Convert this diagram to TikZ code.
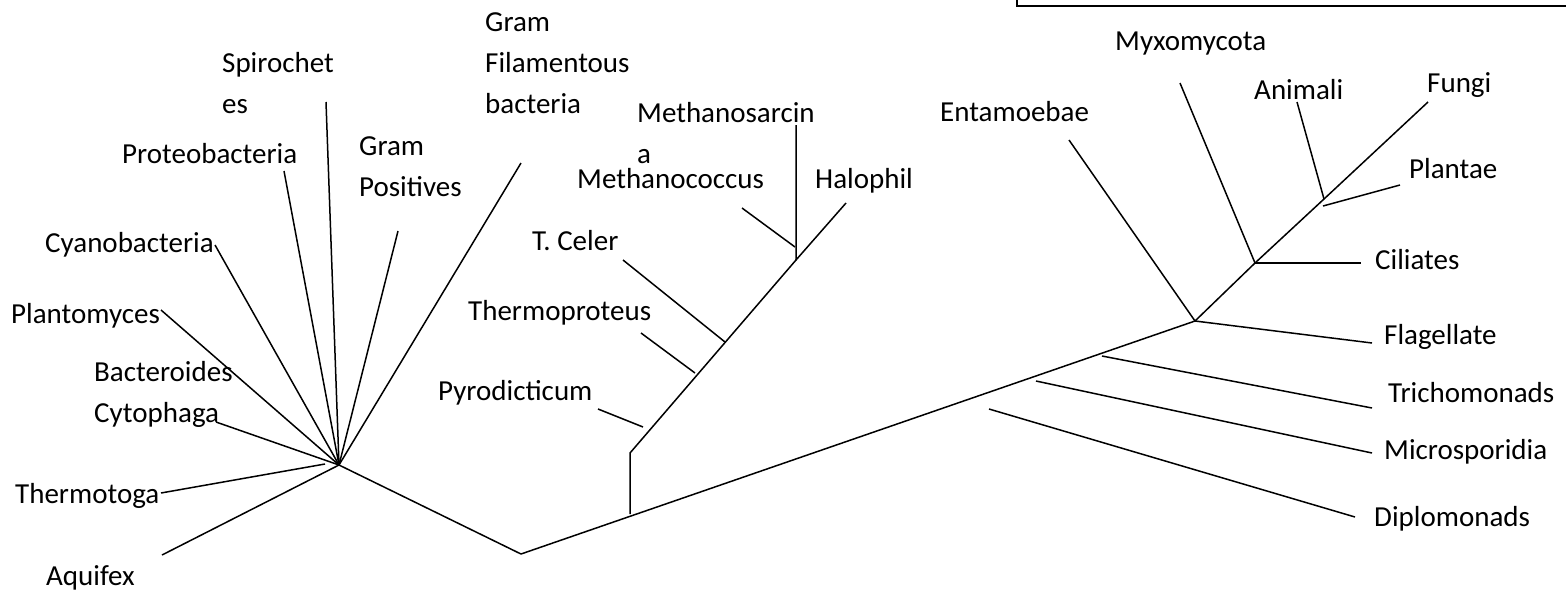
\documentclass[tikz,border=0pt]{standalone}
\usepackage{fontspec}
\setmainfont{Carlito}
\newcommand{\taxonfont}{\fontsize{29}{41}\selectfont}
\begin{document}
\begin{tikzpicture}[
	x=1pt, y=-1pt,
	branch/.style={ line width=1.5pt },
	taxon/.style={ inner sep=0pt, anchor=base west, align=left, font=\taxonfont },
	frame/.style={ line width=2pt }
]
\useasboundingbox (0,0) rectangle (1566,590);

% frame edge at the top
\draw[frame] (1017,-10) -- (1017,6) -- (1580,6);

% forks
\coordinate (root) at (521,554);
\coordinate (bact) at (339,465);
\coordinate (arch) at (630,514);
\coordinate (archbend) at (630,453);
\coordinate (archtop) at (796,260);
\coordinate (euk) at (1195,321);
\coordinate (crown) at (1255,263);
\coordinate (crowntop) at (1324,199);

% bacteria (base = last line)
\node at (46,585) (aquifex) [taxon] {Aquifex};
\node at (15,503) (thermotoga) [taxon] {Thermotoga};
\node at (94,422) (cytophaga) [taxon] {Bacteroides\\Cytophaga};
\node at (11,323) (plantomyces) [taxon] {Plantomyces};
\node at (45,252) (cyano) [taxon] {Cyanobacteria};
\node at (122,163) (proteo) [taxon] {Proteobacteria};
\node at (222,113) (spiro) [taxon] {Spirochet\\es};
\node at (359,196) (grampos) [taxon] {Gram\\Positives};
\node at (485,113) (gramfil) [taxon] {Gram\\Filamentous\\bacteria};

\coordinate (aquifex-end) at (162,555);
\coordinate (thermotoga-end) at (161,493);
\coordinate (thermotoga-start) at (325,464);
\coordinate (cytophaga-end) at (216,422);
\coordinate (plantomyces-end) at (161,310);
\coordinate (cyano-end) at (215,245);
\coordinate (proteo-end) at (284,171);
\coordinate (spiro-end) at (326,102);
\coordinate (grampos-end) at (398,231);
\coordinate (gramfil-end) at (521,163);

\draw[branch] (root) -- (bact);
\draw[branch] (bact) -- (aquifex-end);
\draw[branch] (thermotoga-start) -- (thermotoga-end);
\foreach \t in {cytophaga,plantomyces,cyano,proteo,spiro,grampos,gramfil}
  \draw[branch] (bact) -- (\t-end);

% archaea
\node at (438,400) (pyro) [taxon] {Pyrodicticum};
\node at (468,320) (thermoproteus) [taxon] {Thermoproteus};
\node at (532,250) (tceler) [taxon] {T. Celer};
\node at (577,188) (methanococcus) [taxon] {Methanococcus};
\node at (637,163) (methanosarcina) [taxon] {Methanosarcin\\a};
\node at (815,188) (halophil) [taxon] {Halophil};

\coordinate (pyro-start) at (643,427);
\coordinate (pyro-end) at (598,409);
\coordinate (thermoproteus-start) at (695,373);
\coordinate (thermoproteus-end) at (641,333);
\coordinate (tceler-start) at (725,342);
\coordinate (tceler-end) at (623,260);
\coordinate (methanococcus-start) at (795,247);
\coordinate (methanococcus-end) at (742,208);
\coordinate (methanosarcina-end) at (796,125);
\coordinate (halophil-end) at (846,203);

\draw[branch] (root) -- (euk);
\draw[branch] (arch) -- (archbend) -- (archtop) -- (methanosarcina-end);
\draw[branch] (archtop) -- (halophil-end);
\foreach \t in {pyro,thermoproteus,tceler,methanococcus}
  \draw[branch] (\t-start) -- (\t-end);

% eukaryotes
\node at (940,121) (entamoebae) [taxon] {Entamoebae};
\node at (1115,50) (myxo) [taxon] {Myxomycota};
\node at (1254,99) (animali) [taxon] {Animali};
\node at (1427,92) (fungi) [taxon] {Fungi};
\node at (1409,178) (plantae) [taxon] {Plantae};
\node at (1375,269) (ciliates) [taxon] {Ciliates};
\node at (1384,344) (flagellate) [taxon] {Flagellate};
\node at (1388,402) (tricho) [taxon] {Trichomonads};
\node at (1384,459) (microsp) [taxon] {Microsporidia};
\node at (1374,526) (diplo) [taxon] {Diplomonads};

\coordinate (diplo-start) at (989,409);
\coordinate (diplo-end) at (1355,517);
\coordinate (microsp-start) at (1036,381);
\coordinate (microsp-end) at (1372,453);
\coordinate (tricho-start) at (1102,356);
\coordinate (tricho-end) at (1372,408);
\coordinate (plantae-start) at (1323,206);
\coordinate (plantae-end) at (1400,185);
\coordinate (flagellate-end) at (1372,343);
\coordinate (entamoebae-end) at (1069,140);
\coordinate (fungi-end) at (1428,102);
\coordinate (ciliates-end) at (1361,263);
\coordinate (myxo-end) at (1180,83);
\coordinate (animali-end) at (1297,102);

\foreach \t in {diplo,microsp,tricho,plantae}
  \draw[branch] (\t-start) -- (\t-end);
\draw[branch] (euk) -- (crown) -- (crowntop) -- (fungi-end);
\draw[branch] (euk) -- (flagellate-end);
\draw[branch] (euk) -- (entamoebae-end);
\draw[branch] (crown) -- (ciliates-end);
\draw[branch] (crown) -- (myxo-end);
\draw[branch] (crowntop) -- (animali-end);

\end{tikzpicture}
\end{document}
